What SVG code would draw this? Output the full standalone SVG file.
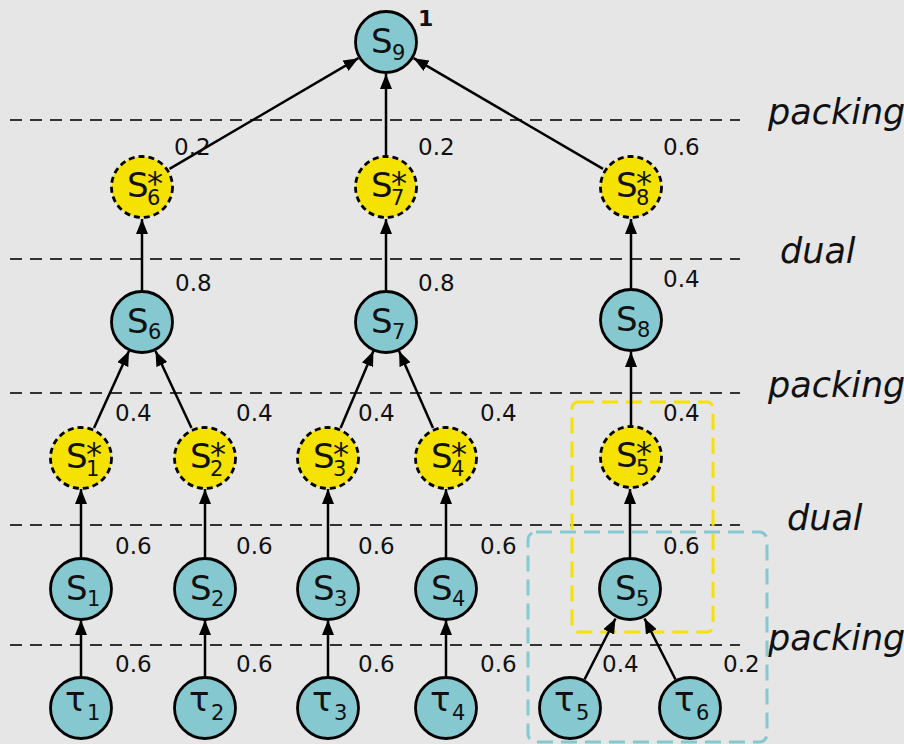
<svg xmlns="http://www.w3.org/2000/svg" width="904" height="744" viewBox="0 0 904 744">
<style>
text{font-family:"DejaVu Sans","Liberation Sans",sans-serif;fill:#111}
.n{font-size:34px}
.sb{font-size:21px}
.st{font-size:32px}
.el{font-size:23px}
.lay{font-size:35px;font-style:italic}
.c{fill:#85c8d0;stroke:#000;stroke-width:2.8}
.y{fill:#f5e200;stroke:#000;stroke-width:2.8;stroke-dasharray:6 4}
.dl{stroke:#333;stroke-width:1.8;stroke-dasharray:12 8;fill:none}
.e{stroke:#000;stroke-width:2.5;fill:none;marker-end:url(#ah)}
</style>
<defs>
<marker id="ah" markerUnits="userSpaceOnUse" markerWidth="15" markerHeight="12" refX="15" refY="6" orient="auto">
<path d="M0,0 L15,6 L0,12 z" fill="#000"/>
</marker>
</defs>
<rect width="904" height="744" fill="#e6e6e6"/>
<g id="layers">
<line class="dl" x1="10" y1="120" x2="740" y2="120"/>
<line class="dl" x1="10" y1="259" x2="740" y2="259"/>
<line class="dl" x1="10" y1="393" x2="740" y2="393"/>
<line class="dl" x1="10" y1="525" x2="740" y2="525"/>
<line class="dl" x1="10" y1="645" x2="740" y2="645"/>
<text class="lay" x="768" y="124">packing</text>
<text class="lay" x="780" y="263">dual</text>
<text class="lay" x="768" y="397">packing</text>
<text class="lay" x="787" y="530">dual</text>
<text class="lay" x="768" y="650">packing</text>
</g>
<g id="boxes">
<rect x="572" y="402" width="141" height="230" rx="6" fill="none" stroke="#f5e200" stroke-width="3" stroke-dasharray="16 8"/>
<rect x="528" y="532" width="239" height="210" rx="8" fill="none" stroke="#85c8d0" stroke-width="3" stroke-dasharray="16 8"/>
</g>
<g id="connectors">
<line class="e" x1="169.5" y1="168.8" x2="358.4" y2="58.2"/>
<line class="e" x1="386" y1="155" x2="386" y2="74"/>
<line class="e" x1="603" y1="168.8" x2="413.6" y2="58.2"/>
<line class="e" x1="142" y1="290" x2="142" y2="219"/>
<line class="e" x1="386" y1="290" x2="386" y2="219"/>
<line class="e" x1="631" y1="288" x2="631" y2="219"/>
<line class="e" x1="94" y1="428" x2="129" y2="351"/>
<line class="e" x1="191.5" y1="428" x2="155.5" y2="351"/>
<line class="e" x1="340.6" y1="428" x2="373.4" y2="351"/>
<line class="e" x1="433" y1="428" x2="399" y2="351"/>
<line class="e" x1="631" y1="425" x2="631" y2="352"/>
<line class="e" x1="81" y1="558" x2="81" y2="489"/>
<line class="e" x1="205" y1="558" x2="205" y2="489"/>
<line class="e" x1="328" y1="558" x2="328" y2="489"/>
<line class="e" x1="446" y1="558" x2="446" y2="489"/>
<line class="e" x1="630" y1="558" x2="630" y2="489"/>
<line class="e" x1="81" y1="676" x2="81" y2="620"/>
<line class="e" x1="205" y1="676" x2="205" y2="620"/>
<line class="e" x1="328" y1="676" x2="328" y2="620"/>
<line class="e" x1="446" y1="676" x2="446" y2="620"/>
<line class="e" x1="584.5" y1="679.5" x2="615.5" y2="618.5"/>
<line class="e" x1="675.5" y1="679.5" x2="644.5" y2="618.5"/>
<text class="el" x="174" y="155">0.2</text>
<text class="el" x="418" y="155">0.2</text>
<text class="el" x="663" y="155">0.6</text>
<text class="el" x="175" y="291">0.8</text>
<text class="el" x="418" y="291">0.8</text>
<text class="el" x="663" y="287">0.4</text>
<text class="el" x="115" y="421">0.4</text>
<text class="el" x="236" y="421">0.4</text>
<text class="el" x="358" y="421">0.4</text>
<text class="el" x="480" y="421">0.4</text>
<text class="el" x="663" y="421">0.4</text>
<text class="el" x="115" y="554">0.6</text>
<text class="el" x="236" y="554">0.6</text>
<text class="el" x="358" y="554">0.6</text>
<text class="el" x="480" y="554">0.6</text>
<text class="el" x="663" y="554">0.6</text>
<text class="el" x="115" y="672">0.6</text>
<text class="el" x="236" y="672">0.6</text>
<text class="el" x="358" y="672">0.6</text>
<text class="el" x="480" y="672">0.6</text>
<text class="el" x="602" y="672">0.4</text>
<text class="el" x="723" y="672">0.2</text>
</g>
<g id="S9"><circle class="c" cx="386" cy="42" r="30.5"/><text class="n" x="371" y="53">S</text><text class="sb" x="392" y="60">9</text><text x="418" y="26" style="font-size:22px;font-weight:bold">1</text></g>
<g id="S6s"><circle class="y" cx="142" cy="187" r="30.5"/><text class="n" x="127" y="197">S</text><text class="st" x="147" y="194">*</text><text class="sb" x="147" y="205">6</text></g>
<g id="S7s"><circle class="y" cx="386" cy="187" r="30.5"/><text class="n" x="371" y="197">S</text><text class="st" x="391" y="194">*</text><text class="sb" x="391" y="205">7</text></g>
<g id="S8s"><circle class="y" cx="631" cy="187" r="30.5"/><text class="n" x="616" y="197">S</text><text class="st" x="636" y="194">*</text><text class="sb" x="636" y="205">8</text></g>
<g id="S6"><circle class="c" cx="142" cy="322" r="30.5"/><text class="n" x="127" y="333">S</text><text class="sb" x="148" y="339">6</text></g>
<g id="S7"><circle class="c" cx="386" cy="322" r="30.5"/><text class="n" x="371" y="333">S</text><text class="sb" x="392" y="339">7</text></g>
<g id="S8"><circle class="c" cx="631" cy="320" r="30.5"/><text class="n" x="616" y="331">S</text><text class="sb" x="637" y="337">8</text></g>
<g id="S1s"><circle class="y" cx="81" cy="458" r="30.5"/><text class="n" x="66" y="468">S</text><text class="st" x="86" y="465">*</text><text class="sb" x="86" y="476">1</text></g>
<g id="S2s"><circle class="y" cx="205" cy="458" r="30.5"/><text class="n" x="190" y="468">S</text><text class="st" x="210" y="465">*</text><text class="sb" x="210" y="476">2</text></g>
<g id="S3s"><circle class="y" cx="328" cy="458" r="30.5"/><text class="n" x="313" y="468">S</text><text class="st" x="333" y="465">*</text><text class="sb" x="333" y="476">3</text></g>
<g id="S4s"><circle class="y" cx="446" cy="458" r="30.5"/><text class="n" x="431" y="468">S</text><text class="st" x="451" y="465">*</text><text class="sb" x="451" y="476">4</text></g>
<g id="S5s"><circle class="y" cx="631" cy="457" r="30.5"/><text class="n" x="616" y="467">S</text><text class="st" x="636" y="464">*</text><text class="sb" x="636" y="475">5</text></g>
<g id="S1"><circle class="c" cx="81" cy="589" r="30.5"/><text class="n" x="66" y="600">S</text><text class="sb" x="87" y="606">1</text></g>
<g id="S2"><circle class="c" cx="205" cy="589" r="30.5"/><text class="n" x="190" y="600">S</text><text class="sb" x="211" y="606">2</text></g>
<g id="S3"><circle class="c" cx="328" cy="589" r="30.5"/><text class="n" x="313" y="600">S</text><text class="sb" x="334" y="606">3</text></g>
<g id="S4"><circle class="c" cx="446" cy="589" r="30.5"/><text class="n" x="431" y="600">S</text><text class="sb" x="452" y="606">4</text></g>
<g id="S5"><circle class="c" cx="630" cy="589" r="30.5"/><text class="n" x="615" y="600">S</text><text class="sb" x="636" y="606">5</text></g>
<g id="t1"><circle class="c" cx="81" cy="708" r="30.5"/><text class="n" x="65" y="711">τ</text><text class="sb" x="87" y="720">1</text></g>
<g id="t2"><circle class="c" cx="205" cy="708" r="30.5"/><text class="n" x="189" y="711">τ</text><text class="sb" x="211" y="720">2</text></g>
<g id="t3"><circle class="c" cx="328" cy="708" r="30.5"/><text class="n" x="312" y="711">τ</text><text class="sb" x="334" y="720">3</text></g>
<g id="t4"><circle class="c" cx="446" cy="708" r="30.5"/><text class="n" x="430" y="711">τ</text><text class="sb" x="452" y="720">4</text></g>
<g id="t5"><circle class="c" cx="570" cy="708" r="30.5"/><text class="n" x="554" y="711">τ</text><text class="sb" x="576" y="720">5</text></g>
<g id="t6"><circle class="c" cx="690" cy="708" r="30.5"/><text class="n" x="674" y="711">τ</text><text class="sb" x="696" y="720">6</text></g>
</svg>
